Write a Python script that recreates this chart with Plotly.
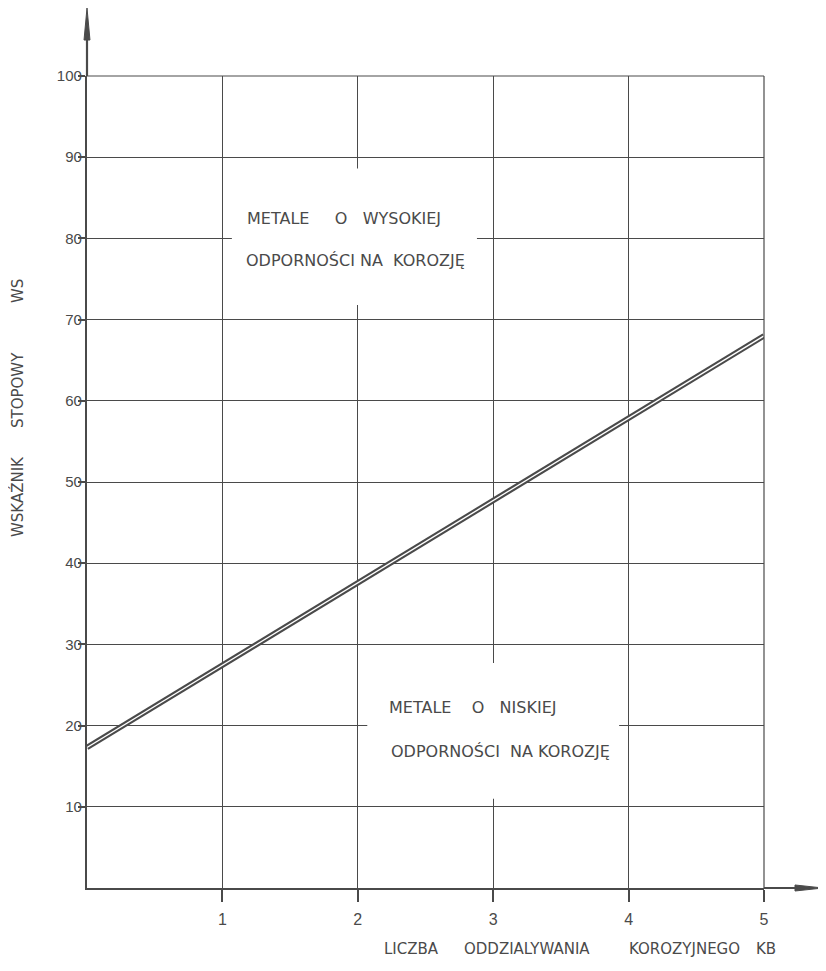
import plotly.graph_objects as go

# Data
kb = [0, 5]
ws = [17.3, 68.0]
x_ticks = [1, 2, 3, 4, 5]
x_labels = ["1", "2", "3", "4", "5"]
y_ticks = [10, 20, 30, 40, 50, 60, 70, 80, 90, 100]
y_labels = [str(v) for v in y_ticks]

INK = "#4a4a4a"
TICKFONT = "Liberation Sans, sans-serif"
FONT = "DejaVu Sans, sans-serif"

# plot-area geometry (pixels) used only to place free text labels
X0PX, X5PX, Y0PX, Y100PX = 87, 764, 888, 76
def dx(px):
    return (px - X0PX) / (X5PX - X0PX) * 5
def dy(py):
    return (Y0PX - py) / (Y0PX - Y100PX) * 100
def paper_x(px):
    return (px - X0PX) / (X5PX - X0PX)
def paper_y(py):
    return (Y0PX - py) / (Y0PX - Y100PX)

fig = go.Figure()
# double line: dark outer stroke with white core
fig.add_trace(go.Scatter(x=kb, y=ws, mode="lines",
                         line=dict(color=INK, width=5.5), hoverinfo="skip",
                         showlegend=False))
fig.add_trace(go.Scatter(x=kb, y=ws, mode="lines",
                         line=dict(color="white", width=1.4), hoverinfo="skip",
                         showlegend=False))

shapes = []
# white boxes interrupting grid
shapes.append(dict(type="rect", xref="x", yref="y", x0=1.07, x1=2.88, y0=71.8, y1=88.6,
                   fillcolor="white", line=dict(width=0), layer="above"))
shapes.append(dict(type="rect", xref="x", yref="y", x0=2.07, x1=3.93, y0=11.0, y1=27.7,
                   fillcolor="white", line=dict(width=0), layer="above"))
# right and top border of grid
shapes.append(dict(type="line", xref="paper", yref="paper", x0=1, x1=1, y0=0, y1=1,
                   line=dict(color=INK, width=1.2)))
shapes.append(dict(type="line", xref="paper", yref="paper", x0=0, x1=1, y0=1, y1=1,
                   line=dict(color=INK, width=1.2)))
# axis extensions with arrows
shapes.append(dict(type="line", xref="paper", yref="paper", x0=0, x1=0, y0=1, y1=1.05,
                   line=dict(color=INK, width=2.2)))
shapes.append(dict(type="path", xref="paper", yref="paper",
                   path="M -0.0044 1.0443 L 0 1.0837 L 0.0044 1.0443 Z",
                   fillcolor=INK, line=dict(color=INK, width=1)))
shapes.append(dict(type="line", xref="paper", yref="paper", x0=1, x1=1.05, y0=0, y1=0,
                   line=dict(color=INK, width=2.2)))
shapes.append(dict(type="path", xref="paper", yref="paper",
                   path="M 1.0458 -0.0037 L 1.0872 0 L 1.0458 0.0037 Z",
                   fillcolor=INK, line=dict(color=INK, width=1)))

anns = []
def word(x, y, s, xref="x", yref="y", size=16, xanchor="left", angle=0):
    anns.append(dict(x=x, y=y, xref=xref, yref=yref, text=s, showarrow=False,
                     xanchor=xanchor, yanchor="middle", textangle=angle,
                     font=dict(family=FONT, size=size, color=INK)))

sp = "&nbsp;"
# upper region label
word(dx(245), dy(218), "METALE" + sp * 5 + "O" + sp * 3 + "WYSOKIEJ")
word(dx(244), dy(260), "ODPORNOŚCI NA" + sp * 2 + "KOROZJĘ")
# lower region label
word(dx(387), dy(707), "METALE" + sp * 4 + "O" + sp * 3 + "NISKIEJ")
word(dx(389), dy(751), "ODPORNOŚCI" + sp * 2 + "NA" + sp + "KOROZJĘ")

# x axis title
for px, w in [(382, "LICZBA"), (462, "ODDZIALYWANIA"), (627, "KOROZYJNEGO"), (754, "KB")]:
    word(paper_x(px), paper_y(949), w, xref="paper", yref="paper", size=15)
# y axis title (rotated)
for py, w in [(291, "WS"), (390, "STOPOWY"), (497, "WSKAŹNIK")]:
    word(paper_x(18), paper_y(py), w, xref="paper", yref="paper", size=15,
         xanchor="center", angle=-90)

fig.update_layout(
    width=818, height=963, autosize=False,
    margin=dict(l=79, r=62, t=68, b=83),
    paper_bgcolor="white", plot_bgcolor="white",
    shapes=shapes, annotations=anns,
    font=dict(family=FONT, color=INK),
    xaxis=dict(range=[0, 5], tickvals=x_ticks, ticktext=x_labels,
               showgrid=True, gridcolor=INK, gridwidth=1, zeroline=False,
               showline=True, linecolor=INK, linewidth=2.2,
               ticks="outside", ticklen=12, tickwidth=1.5, tickcolor=INK,
               ticklabelstandoff=4,
               tickfont=dict(family=TICKFONT, size=16, color=INK), fixedrange=True),
    yaxis=dict(range=[0, 100], tickvals=y_ticks, ticktext=y_labels,
               showgrid=True, gridcolor=INK, gridwidth=1, zeroline=False,
               showline=True, linecolor=INK, linewidth=2.2,
               ticks="outside", ticklen=7, tickwidth=1.5, tickcolor=INK,
               ticklabelstandoff=-7,
               tickfont=dict(family=TICKFONT, size=15, color=INK), fixedrange=True),
)

fig.write_html("out.html")
